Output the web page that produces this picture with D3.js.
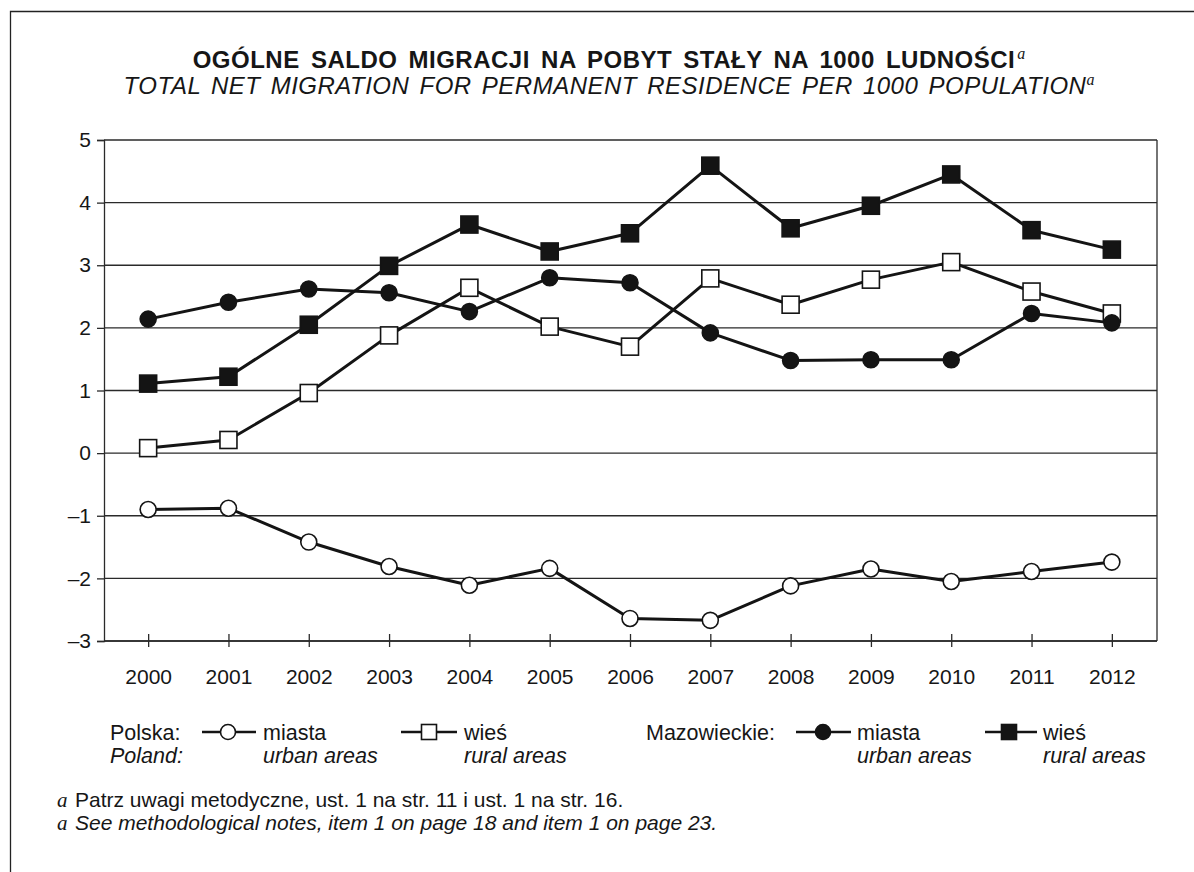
<!DOCTYPE html>
<html>
<head>
<meta charset="utf-8">
<script src="https://cdn.jsdelivr.net/npm/d3@7"></script>
<style>
  body { margin: 0; background: #fff; }
  svg { display: block; }
  text { font-family: "Liberation Sans", Arial, sans-serif; fill: #161616; }
  .sup { font-family: "Liberation Serif", "Times New Roman", serif; font-style: italic; font-weight: normal; letter-spacing: 0; }
</style>
</head>
<body>
<svg id="chart" width="1194" height="872"></svg>
<script>
// Net migration for permanent residence per 1000 population
const years = [2000, 2001, 2002, 2003, 2004, 2005, 2006, 2007, 2008, 2009, 2010, 2011, 2012];
const polskaMiasta = [-0.90, -0.88, -1.42, -1.81, -2.11, -1.84, -2.64, -2.67, -2.12, -1.85, -2.05, -1.89, -1.74];
const polskaWies   = [0.08, 0.21, 0.96, 1.88, 2.64, 2.02, 1.70, 2.79, 2.37, 2.77, 3.05, 2.58, 2.23];
const mazMiasta    = [2.14, 2.41, 2.62, 2.56, 2.26, 2.80, 2.72, 1.92, 1.48, 1.49, 1.49, 2.23, 2.08];
const mazWies      = [1.11, 1.22, 2.05, 2.99, 3.65, 3.22, 3.51, 4.59, 3.59, 3.95, 4.45, 3.56, 3.25];
const yTicks = [-3, -2, -1, 0, 1, 2, 3, 4, 5];

const svg = d3.select("#chart");

// outer frame (open towards the right and bottom edges)
svg.append("path")
  .attr("d", "M10.5,872V11.5H1194")
  .attr("fill", "none").attr("stroke", "#222").attr("stroke-width", 1.3);

// titles
const t1 = svg.append("text").attr("x", 609).attr("y", 68).attr("text-anchor", "middle")
  .style("font-size", "24px").style("font-weight", "bold")
  .style("letter-spacing", "0.5px").style("word-spacing", "4px");
t1.append("tspan").text("OGÓLNE SALDO MIGRACJI NA POBYT STAŁY NA 1000 LUDNOŚCI");
t1.append("tspan").attr("class", "sup").attr("dx", 2).attr("dy", -9).style("font-size", "16px").text("a");

const t2 = svg.append("text").attr("x", 609).attr("y", 94).attr("text-anchor", "middle")
  .style("font-size", "24px").style("font-style", "italic")
  .style("letter-spacing", "0.5px").style("word-spacing", "3px");
t2.append("tspan").text("TOTAL NET MIGRATION FOR PERMANENT RESIDENCE PER 1000 POPULATION");
t2.append("tspan").attr("class", "sup").attr("dy", -9).style("font-size", "16px").text("a");

// plot box
const plotLeft = 104, plotRight = 1157, plotTop = 140, plotBottom = 641;
const x = d3.scalePoint().domain(years).range([108, 1152]).padding(0.5);
const y = d3.scaleLinear().domain([-3, 5]).range([plotBottom, plotTop]);

// horizontal grid
svg.append("g").selectAll("line").data(yTicks).join("line")
  .attr("x1", plotLeft).attr("x2", plotRight)
  .attr("y1", d => y(d)).attr("y2", d => y(d))
  .attr("stroke", "#2a2a2a").attr("stroke-width", 1.3);
svg.append("line").attr("x1", plotRight).attr("x2", plotRight).attr("y1", plotTop).attr("y2", plotBottom)
  .attr("stroke", "#2a2a2a").attr("stroke-width", 1.3);

// y axis
const fmt = d => d < 0 ? "\u2013" + Math.abs(d) : String(d);
const gy = svg.append("g").attr("transform", `translate(${plotLeft},0)`)
  .call(d3.axisLeft(y).tickValues(yTicks).tickSize(7).tickPadding(6).tickFormat(fmt));
gy.select(".domain").attr("stroke", "#2a2a2a").attr("stroke-width", 1.3);
gy.selectAll(".tick line").attr("stroke", "#2a2a2a").attr("stroke-width", 1.3);
gy.selectAll("text").style("font-size", "21px").attr("fill", "#161616");

// x axis, ticks crossing the baseline
const gx = svg.append("g").attr("transform", `translate(0,${plotBottom})`)
  .call(d3.axisBottom(x).tickSize(6).tickSizeOuter(0));
gx.select(".domain").attr("d", `M${plotLeft},0H${plotRight}`).attr("stroke", "#2a2a2a").attr("stroke-width", 1.3);
gx.selectAll(".tick line").attr("y1", -7).attr("y2", 6).attr("stroke", "#2a2a2a").attr("stroke-width", 1.3);
gx.selectAll("text").attr("y", 43).attr("dy", 0).style("font-size", "21px").attr("fill", "#161616");

// series
const series = [
  { values: polskaMiasta, shape: "circle", fill: "#fff" },
  { values: polskaWies,   shape: "square", fill: "#fff" },
  { values: mazMiasta,    shape: "circle", fill: "#141414" },
  { values: mazWies,      shape: "square", fill: "#141414" }
];
const line = d3.line().x((d, i) => x(years[i])).y(d => y(d));

function marker(g, shape, fill, size) {
  if (shape === "circle") {
    g.append("circle").attr("r", size / 2).attr("fill", fill).attr("stroke", "#141414").attr("stroke-width", 1.6);
  } else {
    g.append("rect").attr("x", -size / 2).attr("y", -size / 2).attr("width", size).attr("height", size)
      .attr("fill", fill).attr("stroke", "#141414").attr("stroke-width", 1.6);
  }
}

series.forEach(s => {
  svg.append("path").datum(s.values).attr("d", line)
    .attr("fill", "none").attr("stroke", "#141414").attr("stroke-width", 3).attr("stroke-linejoin", "round");
});
series.forEach(s => {
  s.values.forEach((v, i) => {
    const g = svg.append("g").attr("transform", `translate(${x(years[i])},${y(v)})`);
    marker(g, s.shape, s.fill, s.shape === "circle" ? 16 : 17);
  });
});

// legend
const legRow1 = 740, legRow2 = 763, legFont = "21.5px";
const legGroups = [
  { x: 110, pl: "Polska:", en: "Poland:" },
  { x: 646, pl: "Mazowieckie:", en: "" }
];
legGroups.forEach(gp => {
  svg.append("text").attr("x", gp.x).attr("y", legRow1).style("font-size", legFont).text(gp.pl);
  if (gp.en) svg.append("text").attr("x", gp.x).attr("y", legRow2).style("font-size", legFont).style("font-style", "italic").text(gp.en);
});
const legItems = [
  { x0: 202, x1: 256, cx: 228, tx: 263, s: series[0], pl: "miasta", en: "urban areas" },
  { x0: 401, x1: 457, cx: 429, tx: 464, s: series[1], pl: "wieś",   en: "rural areas" },
  { x0: 796, x1: 851, cx: 823, tx: 857, s: series[2], pl: "miasta", en: "urban areas" },
  { x0: 985, x1: 1037, cx: 1009, tx: 1043, s: series[3], pl: "wieś", en: "rural areas" }
];
legItems.forEach(it => {
  const my = legRow1 - 8;
  svg.append("line").attr("x1", it.x0).attr("x2", it.x1).attr("y1", my).attr("y2", my)
    .attr("stroke", "#141414").attr("stroke-width", 2.5);
  marker(svg.append("g").attr("transform", `translate(${it.cx},${my})`), it.s.shape, it.s.fill, 15);
  svg.append("text").attr("x", it.tx).attr("y", legRow1).style("font-size", legFont).text(it.pl);
  svg.append("text").attr("x", it.tx).attr("y", legRow2).style("font-size", legFont).style("font-style", "italic").text(it.en);
});

// footnotes
const notes = [
  { y: 807, text: "Patrz uwagi metodyczne, ust. 1 na str. 11 i ust. 1 na str. 16.", italic: false },
  { y: 830, text: "See methodological notes, item 1 on page 18 and item 1 on page 23.", italic: true }
];
notes.forEach(n => {
  svg.append("text").attr("class", "sup").attr("x", 57).attr("y", n.y).style("font-size", "21px").text("a");
  svg.append("text").attr("x", 75).attr("y", n.y).style("font-size", "21px")
    .style("font-style", n.italic ? "italic" : "normal").text(n.text);
});
</script>
</body>
</html>
